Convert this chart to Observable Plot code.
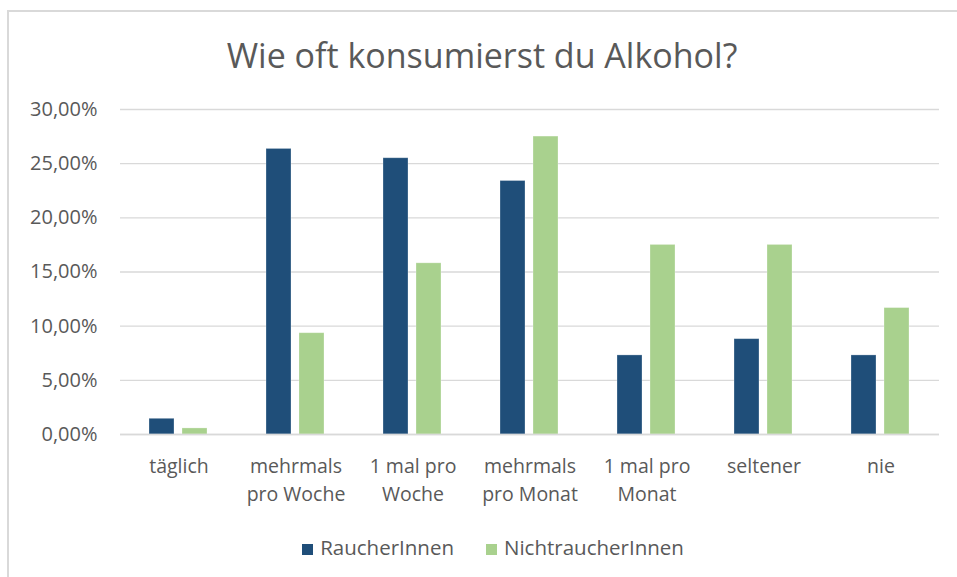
<!DOCTYPE html>
<html><head><meta charset="utf-8">
<script src="https://cdn.jsdelivr.net/npm/d3@7"></script>
<script src="https://cdn.jsdelivr.net/npm/@observablehq/plot@0.6"></script>
<style>
body{margin:0;background:#fff;font-family:"Open Sans",sans-serif;}
#frame{position:absolute;left:7px;top:10px;width:1000px;height:600px;border-left:2px solid #d9d9d9;border-top:2px solid #d9d9d9;}
#title{position:absolute;left:0;width:964px;top:32px;text-align:center;font-size:34px;line-height:46px;color:#595959;}
#chart{position:absolute;left:0;top:90px;}
#legend{position:absolute;top:533px;left:0;width:986px;text-align:center;font-size:20.5px;color:#595959;white-space:nowrap;}
.item{display:inline-block;margin:0 16px;}
.sw{display:inline-block;width:11px;height:11px;margin-right:7px;vertical-align:0px;}
</style></head>
<body>
<div id="frame"></div>
<div id="title">Wie oft konsumierst du Alkohol?</div>
<div id="chart"></div>
<div id="legend"></div>
<script>
const categories = ["täglich","mehrmals\npro Woche","1 mal pro\nWoche","mehrmals\npro Monat","1 mal pro\nMonat","seltener","nie"];
const series = ["RaucherInnen","NichtraucherInnen"];
const raucher = [1.45, 26.36, 25.5, 23.4, 7.3, 8.8, 7.3];
const nichtraucher = [0.56, 9.35, 15.8, 27.5, 17.5, 17.5, 11.67];
const yTicks = [0, 5, 10, 15, 20, 25, 30];
const colors = ["#1F4E79", "#A9D18E"];

const data = [];
categories.forEach((c, i) => {
  data.push({category: c, series: series[0], value: raucher[i]});
  data.push({category: c, series: series[1], value: nichtraucher[i]});
});
const fmt = d => d.toFixed(2).replace(".", ",") + "%";

const chart = Plot.plot({
  width: 957, height: 430,
  marginLeft: 119, marginRight: 18, marginTop: 19, marginBottom: 86,
  style: {fontFamily: '"Open Sans", sans-serif', color: "#595959", background: "transparent"},
  fx: {domain: categories, padding: 0, label: null},
  x: {domain: series, paddingInner: 0.235, paddingOuter: 0.84, axis: null},
  y: {domain: [0, 30], label: null},
  color: {domain: series, range: colors},
  marks: [
    Plot.gridY(yTicks, {stroke: "#d9d9d9", strokeOpacity: 1, strokeWidth: 1.3}),
    Plot.axisY(yTicks, {tickSize: 0, tickPadding: 23, tickFormat: fmt, fontSize: 20, label: null, fill: "#595959"}),
    Plot.barY(data, {fx: "category", x: "series", y: "value", fill: "series", stroke: "#ffffff", strokeOpacity: 0.35, strokeWidth: 0.8}),
    Plot.ruleY([0], {stroke: "#d9d9d9", strokeWidth: 1.3}),
    Plot.axisFx({anchor: "bottom", tickSize: 0, tickPadding: 18, fontSize: 19.5, lineHeight: 1.45, label: null, fill: "#595959"})
  ]
});
document.getElementById("chart").appendChild(chart);

const legend = document.getElementById("legend");
series.forEach((s, i) => {
  const it = document.createElement("span");
  it.className = "item";
  const sw = document.createElement("span");
  sw.className = "sw";
  sw.style.background = colors[i];
  it.appendChild(sw);
  it.appendChild(document.createTextNode(s));
  legend.appendChild(it);
});
</script>
</body></html>
